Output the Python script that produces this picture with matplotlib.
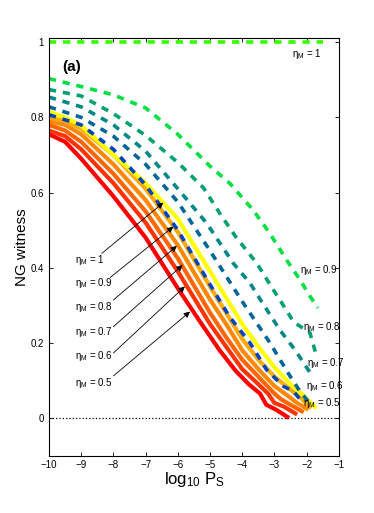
import matplotlib
matplotlib.use("Agg")
import matplotlib.pyplot as plt

plt.rcParams['font.family'] = ['Liberation Sans', 'DejaVu Sans']
plt.rcParams['mathtext.fontset'] = 'custom'
plt.rcParams['mathtext.rm'] = 'Liberation Sans'
plt.rcParams['mathtext.it'] = 'Liberation Sans'

# ---- data: solid curves (eta_M = 0.5 ... 1) ----
s05_x = [-10, -9.5, -9, -8, -7, -6, -5.3, -4.7, -4.2, -3.8, -3.45, -3.25, -2.95, -2.6]
s05_y = [0.755, 0.735, 0.69, 0.59, 0.48, 0.345, 0.255, 0.18, 0.125, 0.09, 0.065, 0.035, 0.022, 0.003]
s06_x = [-10, -9.5, -9, -8, -7, -6, -5, -4.5, -4, -3.5, -3.2, -3, -2.7, -2.35]
s06_y = [0.765, 0.75, 0.715, 0.625, 0.52, 0.39, 0.25, 0.19, 0.13, 0.09, 0.065, 0.04, 0.03, 0.012]
s07_x = [-10, -9.5, -9, -8, -7, -6, -5, -4.5, -4, -3.5, -3, -2.8, -2.5, -2.15]
s07_y = [0.78, 0.765, 0.735, 0.65, 0.55, 0.425, 0.28, 0.215, 0.155, 0.11, 0.065, 0.05, 0.035, 0.018]
s08_x = [-10, -9.5, -9, -8, -7, -6, -5, -4.5, -4, -3.5, -3, -2.6, -2.3, -2.0]
s08_y = [0.79, 0.78, 0.755, 0.675, 0.58, 0.46, 0.315, 0.25, 0.18, 0.13, 0.085, 0.06, 0.04, 0.025]
s09_x = [-10, -9.5, -9, -8, -7, -6, -5, -4.5, -4, -3.5, -3, -2.5, -2.2, -1.9]
s09_y = [0.80, 0.79, 0.77, 0.70, 0.61, 0.495, 0.35, 0.28, 0.21, 0.155, 0.11, 0.075, 0.055, 0.03]
s10_x = [-10, -9.5, -9, -8, -7, -6, -5, -4.5, -4, -3.5, -3, -2.5, -2.1, -1.75]
s10_y = [0.815, 0.80, 0.778, 0.70, 0.625, 0.53, 0.39, 0.32, 0.25, 0.19, 0.135, 0.09, 0.06, 0.03]

# ---- data: dashed curves ----
d05_x = [-10, -9, -8, -7, -6, -5, -4.4, -3.76, -3.24, -2.72, -2.41, -2.15]
d05_y = [0.807, 0.78, 0.715, 0.62, 0.50, 0.355, 0.27, 0.20, 0.128, 0.084, 0.071, 0.044]
d06_x = [-10, -9, -8, -7, -6, -5, -4, -3.14, -2.58, -2.2, -1.95]
d06_y = [0.828, 0.80, 0.75, 0.675, 0.575, 0.445, 0.31, 0.20, 0.12, 0.07, 0.044]
d07_x = [-10, -9, -8, -7, -6, -5.1, -4.69, -4.28, -3.76, -3.4, -2.83, -2.36, -1.85]
d07_y = [0.854, 0.828, 0.78, 0.71, 0.61, 0.518, 0.465, 0.412, 0.359, 0.31, 0.234, 0.181, 0.115]
d08_x = [-10, -9, -8, -7, -6, -5.2, -4.7, -4.2, -3.55, -3.1, -2.8, -2.4, -1.9, -1.69]
d08_y = [0.874, 0.857, 0.81, 0.752, 0.68, 0.612, 0.545, 0.482, 0.412, 0.35, 0.31, 0.255, 0.227, 0.164]
d09_x = [-10, -9, -8, -7, -6, -5, -4.38, -3.66, -3.14, -2.62, -2.2, -1.89, -1.65]
d09_y = [0.903, 0.882, 0.86, 0.825, 0.755, 0.67, 0.624, 0.553, 0.491, 0.42, 0.367, 0.323, 0.293]
d10_x = [-10, -1.5]
d10_y = [1.0, 1.0]

solid_colors = ['#FF0000', '#FF3300', '#FF6600', '#FF8800', '#FFAA00', '#FFFF00']
dash_colors = ['#0044BB', '#006699', '#008888', '#00A070', '#00E040', '#33FF00']

eta_labels = ['0.5', '0.6', '0.7', '0.8', '0.9', '1']

# left labels with arrows: (text x, text y, arrow tail, arrow tip)
left_lab_x = [-9.2, -9.2, -9.2, -9.2, -9.2, -9.2]
left_lab_y = [0.093, 0.164, 0.23, 0.296, 0.358, 0.42]
tail_x = [-8.0, -8.0, -8.0, -8.0, -8.1, -8.36]
tail_y = [0.112, 0.173, 0.243, 0.314, 0.374, 0.438]
tip_x = [-5.62, -5.78, -5.85, -6.03, -6.14, -6.45]
tip_y = [0.283, 0.35, 0.407, 0.458, 0.509, 0.573]

# right labels
right_lab_x = [-2.1, -2.02, -2.0, -2.1, -2.2, -2.47]
right_lab_y = [0.04, 0.084, 0.146, 0.243, 0.394, 0.97]

fig = plt.figure(figsize=(3.74, 5.13), dpi=100)
ax = fig.add_axes([0.131, 0.112, 0.775, 0.813])

solids = [(s05_x, s05_y), (s06_x, s06_y), (s07_x, s07_y), (s08_x, s08_y), (s09_x, s09_y), (s10_x, s10_y)]
dashes = [(d05_x, d05_y), (d06_x, d06_y), (d07_x, d07_y), (d08_x, d08_y), (d09_x, d09_y), (d10_x, d10_y)]

ax.plot([-10, -1], [0, 0], ':', color='black', lw=0.9)

for (x, y), c in zip(solids, solid_colors):
    ax.plot(x, y, '-', color=c, lw=3.0, solid_joinstyle='miter')
for (x, y), c in zip(dashes, dash_colors):
    ax.plot(x, y, '--', color=c, lw=2.6, dashes=(2.0, 1.9))

for i in range(6):
    ax.annotate('', xy=(tip_x[i], tip_y[i]), xytext=(tail_x[i], tail_y[i]),
                arrowprops=dict(arrowstyle='-|>', color='black', lw=0.6,
                                mutation_scale=9, shrinkA=0, shrinkB=0))
    ax.text(left_lab_x[i], left_lab_y[i], r'$\eta_M$ = ' + eta_labels[i],
            fontsize=7, va='center', ha='left')
    ax.text(right_lab_x[i], right_lab_y[i], r'$\eta_M$ = ' + eta_labels[i],
            fontsize=7, va='center', ha='left', clip_on=False)

ax.text(-9.6, 0.935, '(a)', fontsize=11, fontweight='bold', va='center', ha='left')

ax.set_xlim(-10, -1)
ax.set_ylim(-0.1, 1.01)
ax.set_xticks(range(-10, 0))
ax.set_xticklabels(['\u2212%d' % (-v) for v in range(-10, 0)])
ax.set_yticks([0, 0.2, 0.4, 0.6, 0.8, 1])
ax.set_yticklabels(['0', '0.2', '0.4', '0.6', '0.8', '1'])
ax.tick_params(direction='in', top=True, right=True, labelsize=7, length=3, width=0.6)
for sp in ax.spines.values():
    sp.set_linewidth(0.8)

ax.set_ylabel('NG witness', fontsize=11, labelpad=1)
ax.set_xlabel(r'log$_{10}$ P$_S$', fontsize=12, labelpad=0)

fig.savefig('out.png', dpi=100)
